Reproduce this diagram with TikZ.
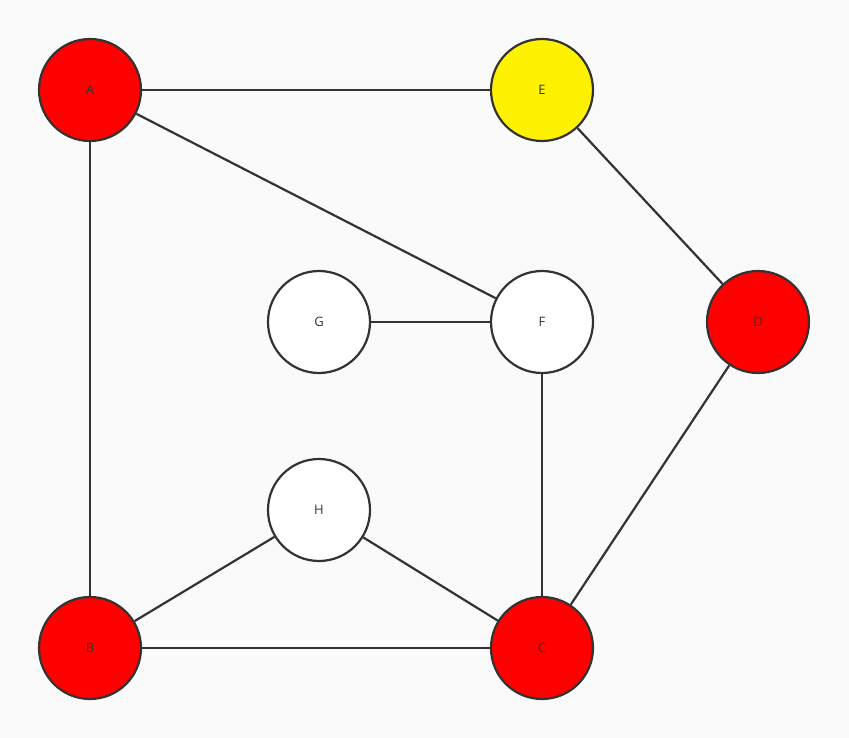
\documentclass[tikz,border=0pt]{standalone}
\usepackage{fontspec}
\setmainfont{Open Sans}
\usetikzlibrary{positioning}
\definecolor{bgcol}{HTML}{FAFAFA}
\definecolor{edgecol}{HTML}{333333}
\tikzset{
  vertex/.style={circle, draw=edgecol, line width=2.2pt, minimum size=102pt, inner sep=0pt, font=\fontsize{13}{15}\selectfont, text=edgecol},
  edge/.style={draw=edgecol, line width=2.2pt}
}
\begin{document}
\begin{tikzpicture}[x=1pt, y=-1pt]
			% Background
			\fill[bgcol] (0,0) rectangle (849,738);
			\useasboundingbox (0,0) rectangle (849,738);
			
			% Vertices
			\node[vertex, fill=red] (A) at (90,90) {A};
			\node[vertex, fill=yellow] (E) at (542,90) {E};
			\node[vertex, fill=red] (D) at (758,322) {D};
			\node[vertex, fill=white] (G) at (319,322) {G};
			\node[vertex, fill=white] (F) at (542,322) {F};
			\node[vertex, fill=white] (H) at (319,510) {H};
			\node[vertex, fill=red] (B) at (90,648) {B};
			\node[vertex, fill=red] (C) at (542,648) {C};
			
			% Edges
			\foreach \u/\v in {A/E, A/F, A/B, E/D, G/F, F/C, D/C, B/H, H/C, B/C} {
				\draw[edge] (\u) -- (\v);
			}
		\end{tikzpicture}
\end{document}
